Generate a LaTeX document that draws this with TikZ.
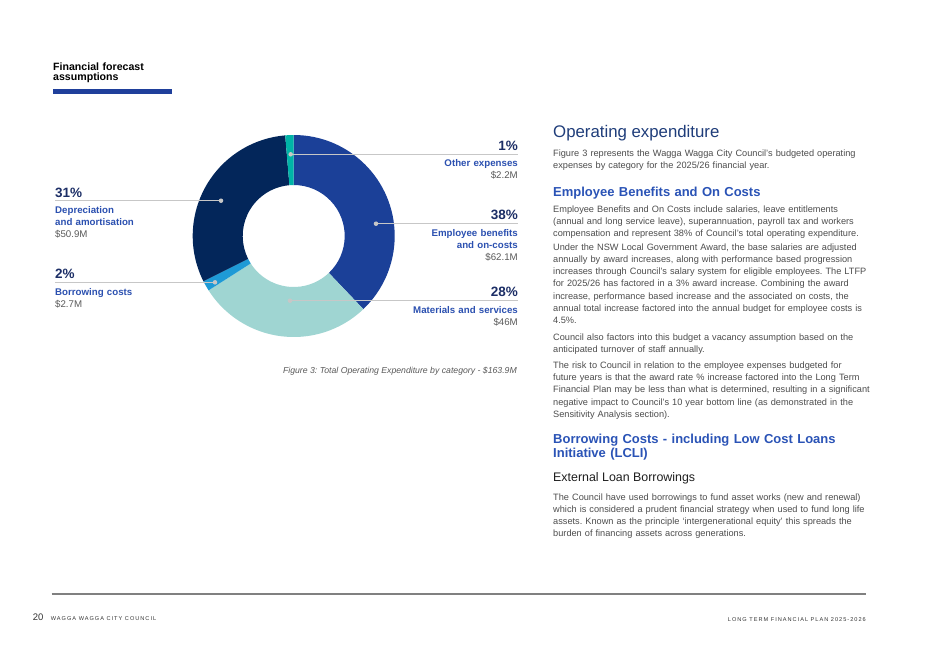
\documentclass[tikz,border=0pt]{standalone}
\usepackage{fontspec}
\setmainfont{Liberation Sans}
\frenchspacing
\definecolor{empblue}{HTML}{1B4098}
\definecolor{matteal}{HTML}{9FD5D2}
\definecolor{borblue}{HTML}{1E9AD6}
\definecolor{depnavy}{HTML}{03265A}
\definecolor{othteal}{HTML}{00B3A7}
\definecolor{catblue}{HTML}{2B50B0}
\definecolor{pctnavy}{HTML}{1C2E66}
\definecolor{valgray}{HTML}{5A5A5A}
\definecolor{headblue}{HTML}{1F3D7A}
\definecolor{subblue}{HTML}{2A53B6}
\definecolor{bodygray}{HTML}{4D4D4D}
\definecolor{barblue}{HTML}{1F3F9B}
\tikzset{
	pdot/.style={circle,inner sep=1.6pt,fill=black!22},
	lead/.style={draw=black!22,line width=0.8pt},
	pct/.style={inner sep=0pt,text=pctnavy,font=\fontsize{13.5}{14}\selectfont\bfseries},
	rcat/.style={inner sep=0pt,text width=140pt,align=right,text=valgray,font=\fontsize{9.7}{12}\selectfont},
	lcat/.style={inner sep=0pt,text width=140pt,align=left,text=valgray,font=\fontsize{9.7}{12}\selectfont},
	body/.style={inner sep=0pt,text width=340pt,align=left,text=bodygray,font=\fontsize{9.2}{12.2}\selectfont},
	subhead/.style={inner sep=0pt,text width=340pt,align=left,text=subblue,font=\fontsize{13}{14.4}\selectfont\bfseries},
	foot/.style={inner sep=0pt,text=black!80,font=\fontsize{5.6}{6}\selectfont\addfontfeature{LetterSpace=18}}
}
\newcommand{\catname}[1]{{\bfseries\color{catblue}#1}}

\begin{document}
\begin{tikzpicture}[x=1pt,y=-1pt]
	\fill[white] (0,0) rectangle (928,656);
	\useasboundingbox (0,0) rectangle (928,656);

	\node [inner sep=0pt,anchor=base west,text width=150pt,align=left,font=\fontsize{10.6}{10}\selectfont\bfseries] (hdr) at (53,70.5) {Financial forecast\\assumptions};
	\fill[barblue] (53,88.7) rectangle (172,94.3);

	\begin{scope}[shift={(293.7,236)}]
		\foreach \e/\c [remember=\e as \s (initially -90)] in {46.40/empblue,147.44/matteal,153.37/borblue,265.17/depnavy,270/othteal}
			\fill[\c] (\s:101) arc[start angle=\s,end angle=\e,radius=101] -- (\e:51) arc[start angle=\e,end angle=\s,radius=51] -- cycle;
	\end{scope}

	\coordinate (eOther) at (518,154.3);
	\coordinate (eEmp) at (518,223.7);
	\coordinate (eMat) at (518,300.7);
	\coordinate (eDep) at (55,200.7);
	\coordinate (eBor) at (55,282.3);
	\node [pdot] (dOther) at (290.7,154.3) {};
	\node [pdot] (dEmp) at (376,223.7) {};
	\node [pdot] (dMat) at (290,300.7) {};
	\node [pdot] (dDep) at (221,200.7) {};
	\node [pdot] (dBor) at (215,282.3) {};
	\draw[lead] (dOther) -- (eOther);
	\draw[lead] (dEmp) -- (eEmp);
	\draw[lead] (dMat) -- (eMat);
	\draw[lead] (dDep) -- (eDep);
	\draw[lead] (dBor) -- (eBor);

	\node [pct,anchor=base east] (pOther) at (518,150.3) {1\%};
	\node [rcat,anchor=base east] (nOther) at (518,166.9) {\catname{Other expenses}\\\$2.2M};
	\node [pct,anchor=base east] (pEmp) at (518,219.7) {38\%};
	\node [rcat,anchor=base east] (nEmp) at (518,236.3) {\catname{Employee benefits\\and on-costs}\\\$62.1M};
	\node [pct,anchor=base east] (pMat) at (518,296.7) {28\%};
	\node [rcat,anchor=base east] (nMat) at (518,313.3) {\catname{Materials and services}\\\$46M};
	\node [pct,anchor=base west] (pDep) at (55,197.0) {31\%};
	\node [lcat,anchor=base west] (nDep) at (55,213.3) {\catname{Depreciation\\and amortisation}\\\$50.9M};
	\node [pct,anchor=base west] (pBor) at (55,278.6) {2\%};
	\node [lcat,anchor=base west] (nBor) at (55,295) {\catname{Borrowing costs}\\\$2.7M};

	\node [inner sep=0pt,anchor=base east,text=valgray,font=\fontsize{8.7}{10}\selectfont\itshape] (cap) at (517,373.3) {Figure 3: Total Operating Expenditure by category - \$163.9M};

	\node [inner sep=0pt,anchor=base west,text=headblue,font=\fontsize{16.8}{18}\selectfont] (tOpex) at (553,137.3) {Operating expenditure};
	\node [body,anchor=base west] (pFig) at (553,156) {Figure 3 represents the Wagga Wagga City Council's budgeted operating\\expenses by category for the 2025/26 financial year.};
	\node [subhead,anchor=base west] (hEmp) at (553,196) {Employee Benefits and On Costs};
	\node [body,anchor=base west] (pEmp1) at (553,212) {Employee Benefits and On Costs include salaries, leave entitlements\\(annual and long service leave), superannuation, payroll tax and workers\\compensation and represent 38\% of Council's total operating expenditure.};
	\node [body,anchor=base west] (pEmp2) at (553,250.3) {Under the NSW Local Government Award, the base salaries are adjusted\\annually by award increases, along with performance based progression\\increases through Council's salary system for eligible employees. The LTFP\\for 2025/26 has factored in a 3\% award increase. Combining the award\\increase, performance based increase and the associated on costs, the\\annual total increase factored into the annual budget for employee costs is\\4.5\%.};
	\node [body,anchor=base west] (pEmp3) at (553,340.2) {Council also factors into this budget a vacancy assumption based on the\\anticipated turnover of staff annually.};
	\node [body,anchor=base west] (pEmp4) at (553,368.5) {The risk to Council in relation to the employee expenses budgeted for\\future years is that the award rate \% increase factored into the Long Term\\Financial Plan may be less than what is determined, resulting in a significant\\negative impact to Council's 10 year bottom line (as demonstrated in the\\Sensitivity Analysis section).};
	\node [subhead,anchor=base west] (hBor) at (553,443.3) {Borrowing Costs - including Low Cost Loans\\Initiative (LCLI)};
	\node [inner sep=0pt,anchor=base west,text=black!88,font=\fontsize{12.4}{14}\selectfont] (hExt) at (553,481.7) {External Loan Borrowings};
	\node [body,anchor=base west] (pExt) at (553,500) {The Council have used borrowings to fund asset works (new and renewal)\\which is considered a prudent financial strategy when used to fund long life\\assets. Known as the principle `intergenerational equity' this spreads the\\burden of financing assets across generations.};

	\draw[black!50,line width=1.4pt] (51.7,594) -- (866,594);
	\node [inner sep=0pt,anchor=base west,text=black!80,font=\fontsize{9.5}{10}\selectfont] (pgnum) at (32.7,620) {20};
	\node [foot,anchor=base west] (fLeft) at (50.7,620) {WAGGA WAGGA CITY COUNCIL};
	\node [foot,anchor=base east] (fRight) at (866,621) {LONG TERM FINANCIAL PLAN 2025-2026};
\end{tikzpicture}
\end{document}
